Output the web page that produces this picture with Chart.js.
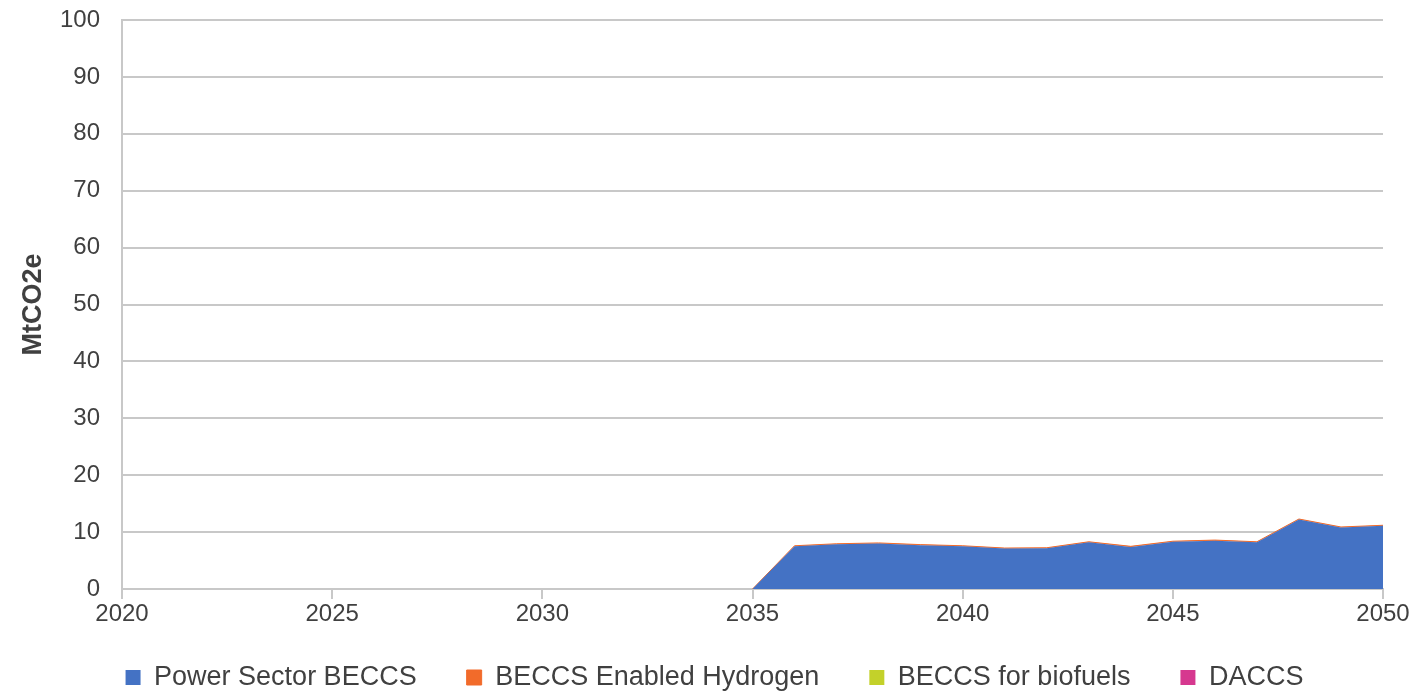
<!DOCTYPE html>
<html>
<head>
<meta charset="utf-8">
<script src="https://cdn.jsdelivr.net/npm/chart.js@4"></script>
<style>
  html, body { margin: 0; padding: 0; background: #fff; }
  #wrap { width: 1414px; height: 693px; }
</style>
</head>
<body>
<div id="wrap"><canvas id="chart" width="1414" height="693"></canvas></div>
<script>
const years = [];
for (let y = 2020; y <= 2050; y++) years.push(y);

// values, 2020..2050
const powerBeccs = [0, 0, 0, 0, 0, 0, 0, 0, 0, 0, 0, 0, 0, 0, 0,
  0, 7.5, 7.85, 8.0, 7.7, 7.5, 7.1, 7.15, 8.2, 7.4, 8.3, 8.5, 8.2, 12.2, 10.8, 11.1];
const hydrogenBeccs = [0, 0, 0, 0, 0, 0, 0, 0, 0, 0, 0, 0, 0, 0, 0,
  0, 0.1, 0.1, 0.1, 0.1, 0.1, 0.1, 0.1, 0.1, 0.1, 0.1, 0.1, 0.1, 0.1, 0.1, 0.1];
const biofuelsBeccs = years.map(() => 0);
const daccs = years.map(() => 0);

const seriesNames = ["Power Sector BECCS", "BECCS Enabled Hydrogen", "BECCS for biofuels", "DACCS"];
const seriesColors = ["#4472C4", "#F26B2A", "#C3D12A", "#D6388F"];
const seriesValues = [powerBeccs, hydrogenBeccs, biofuelsBeccs, daccs];

const font = "'Liberation Sans', Arial, sans-serif";
const textColor = "#404040";
const gridColor = "#c8c8c8";

const datasets = seriesNames.map((name, i) => ({
  label: name,
  data: years.map((yr, j) => ({ x: yr, y: seriesValues[i][j] })),
  backgroundColor: seriesColors[i],
  borderColor: seriesColors[i],
  borderWidth: i === 1 ? 1 : 0,
  pointRadius: 0,
  tension: 0,
  fill: i === 0 ? "origin" : "-1",
  // no edge where the series is zero on both ends
  segment: {
    borderColor: c => (seriesValues[i][c.p0DataIndex] === 0 && seriesValues[i][c.p1DataIndex] === 0)
      ? "rgba(0,0,0,0)" : seriesColors[i]
  }
}));

// legend: keep the wide gap between items but reserve less height, nudge it into place
const legendTweak = {
  id: "legendTweak",
  beforeUpdate(chart) {
    const lg = chart.legend;
    if (!lg || lg._tweaked) return;
    lg._tweaked = true;
    const fit = lg.fit;
    lg.fit = function () { fit.call(this); this.height = 64; };
    const draw = lg.draw;
    lg.draw = function (...a) {
      this.ctx.save();
      this.ctx.translate(23, -15);
      this.bottom += 40;
      draw.apply(this, a);
      this.bottom -= 40;
      this.ctx.restore();
    };
  }
};

new Chart(document.getElementById("chart"), {
  type: "line",
  data: { datasets },
  plugins: [legendTweak],
  options: {
    responsive: false,
    animation: false,
    layout: { padding: { left: 0, right: 31, top: 20, bottom: 0 } },
    plugins: {
      tooltip: { enabled: false },
      legend: {
        position: "bottom",
        labels: {
          font: { family: font, size: 27 },
          color: textColor,
          boxWidth: 15,
          boxHeight: 15,
          padding: 50
        }
      }
    },
    scales: {
      x: {
        type: "linear",
        min: 2020,
        max: 2050,
        ticks: {
          stepSize: 5,
          color: textColor,
          font: { family: font, size: 24 },
          padding: 1,
          maxRotation: 0,
          callback: v => String(v)
        },
        grid: {
          drawOnChartArea: false,
          drawTicks: true,
          tickLength: 10,
          color: gridColor,
          lineWidth: 2
        },
        border: { color: gridColor, width: 2 },
        afterFit: s => { s.height = 40; s.paddingLeft = 0; s.paddingRight = 0; }
      },
      y: {
        stacked: true,
        min: 0,
        max: 100,
        ticks: {
          stepSize: 10,
          color: textColor,
          font: { family: font, size: 24 },
          padding: 22
        },
        grid: { color: gridColor, lineWidth: 2, drawTicks: false },
        border: { color: gridColor, width: 2 },
        title: {
          display: true,
          text: "MtCO2e",
          color: textColor,
          font: { family: font, size: 27, weight: "bold" },
          padding: { top: 17, bottom: 0 }
        },
        afterFit: s => { s.width = 122; s.paddingTop = 0; s.paddingBottom = 0; }
      }
    }
  }
});
</script>
</body>
</html>
